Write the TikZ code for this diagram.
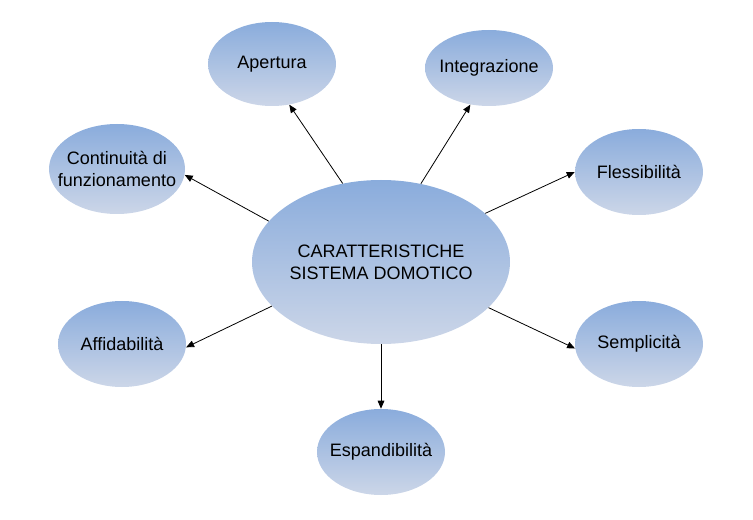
\documentclass[tikz,border=0pt]{standalone}
\usepackage{fontspec}
\setmainfont{Liberation Sans}
\usetikzlibrary{shapes.geometric,arrows.meta}
\begin{document}
\begin{tikzpicture}[x=0.75pt,y=-0.75pt,
  txt/.style={font=\fontsize{13.5}{16.5}\selectfont,align=center,inner sep=0pt},
  bubble/.style={ellipse,top color=bcTop,bottom color=bcBot,draw=none,inner sep=0pt,
    label={[txt]center:{#1}}},
  conn/.style={line width=0.6pt,-{Triangle[length=6pt,width=5pt]}}]
\definecolor{bcTop}{RGB}{138,172,220}
\definecolor{bcBot}{RGB}{204,214,232}
\useasboundingbox (0,0) rectangle (753,520);
\node[bubble={CARATTERISTICHE\\SISTEMA DOMOTICO},minimum width=193.5pt,minimum height=123pt] (c) at (381,262) {};
\node[bubble={Apertura},minimum width=96pt,minimum height=63pt] (ap) at (272,64) {};
\node[bubble={Integrazione},minimum width=96pt,minimum height=57pt] (in) at (489,68) {};
\node[bubble={Continuità di\\funzionamento},minimum width=102pt,minimum height=67.5pt] (co) at (117,169) {};
\node[bubble={Flessibilità},minimum width=96pt,minimum height=64.5pt] (fl) at (639,172) {};
\node[bubble={Affidabilità},minimum width=96pt,minimum height=64.5pt] (af) at (122,344) {};
\node[bubble={Semplicità},minimum width=96pt,minimum height=64.5pt] (se) at (639,344) {};
\node[bubble={Espandibilità},minimum width=96pt,minimum height=64.5pt] (es) at (381,452) {};
\draw[conn] (c.116) -- (ap.-67);
\draw[conn] (c.63) -- (in.-117);
\draw[conn] (c.160) -- (co.-5);
\draw[conn] (c.25) -- (fl.180);
\draw[conn] (c.202) -- (af.-3);
\draw[conn] (c.-23) -- (se.184);
\draw[conn] (c.-90) -- (es.90);
\end{tikzpicture}
\end{document}
